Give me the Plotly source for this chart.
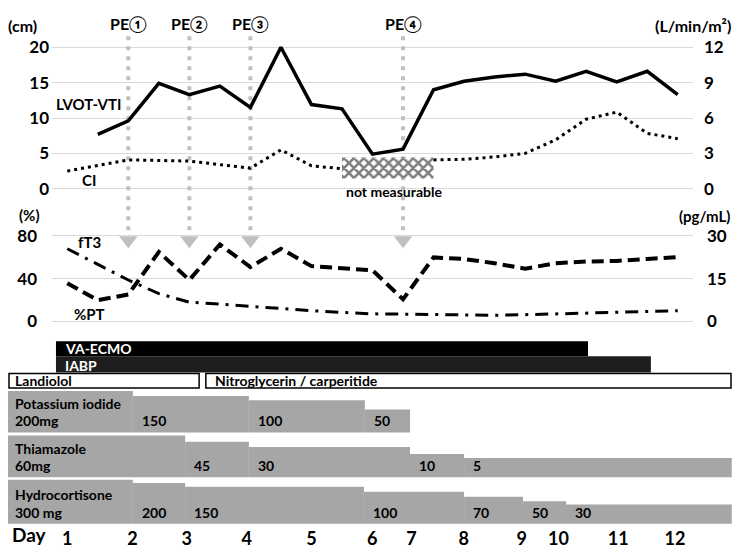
import plotly.graph_objects as go

# measurement points (two per day), index 0..20
POS = list(range(21))

LVOT_VTI = [None, 7.7, 9.6, 14.9, 13.3, 14.5, 11.5, 20.0, 11.9, 11.3, 4.9,
            5.6, 14.0, 15.2, 15.8, 16.2, 15.2, 16.6, 15.1, 16.6, 13.3]
CI = [1.5, 2.0, 2.45, 2.4, 2.35, 2.05, 1.75, 3.3, 1.95, 1.7, None,
      None, 2.45, 2.5, 2.7, 3.0, 4.15, 5.9, 6.5, 4.7, 4.25]
PT = [35.7, 19.7, 25.1, 65.0, 38.7, 72.0, 50.8, 68.0, 51.7, 50.0, 47.8,
      20.6, 59.9, 58.4, 54.4, 49.3, 54.4, 56.0, 56.6, 58.4, 60.2]
FT3 = [25.5, 20.1, 14.5, 9.7, 6.7, 6.0, 5.2, 4.5, 3.7, 3.1, 2.6,
       2.5, 2.3, 2.1, 2.1, 2.3, 2.6, 2.9, 3.1, 3.4, 3.7]
NOT_MEASURABLE = [9, 12]

PE_POS = [2, 4, 6, 11]
PE_LABELS = ["PE①", "PE②", "PE③", "PE④"]

DAY_POS = [0, 2.14, 3.91, 5.88, 8.0, 9.99, 11.28, 12.99, 14.89, 16.09, 18.05, 19.91]
DAY_LABELS = ["1", "2", "3", "4", "5", "6", "7", "8", "9", "10", "11", "12"]

# treatment periods (same position scale)
ECMO = [-0.37, 17.06]
IABP = [-0.37, 19.12]
LANDIOLOL = [-2.01, 4.32]
NTG = [4.54, 21.77]

KI_EDGES = [-2.04, 2.15, 5.95, 9.75, 11.23]
KI_DOSE = ["200mg", "150", "100", "50"]
THI_EDGES = [-2.04, 3.86, 5.95, 11.23, 13.0, 21.77]
THI_DOSE = ["60mg", "45", "30", "10", "5"]
HC_EDGES = [-2.04, 2.15, 3.86, 9.72, 13.0, 14.93, 16.34, 21.77]
HC_DOSE = ["300 mg", "200", "150", "100", "70", "50", "30"]

# ---- layout helpers (page pixels; the page body has an 8px margin) ----
OX = OY = 8
W, H = 740 - 2 * OX, 557 - 2 * OY
PL, PR = 52, 693
PX = (PR - PL) / 21
FONT = "Lato"
GRID = "#d9d9d9"
BARGRAY = "#a6a6a6"
PEGRAY = "#c0c0c0"


def xf(p):
    return (p - OX) / W


def yf(p):
    return 1 - (p - OY) / H


def idx(p):
    return (p - PL) / PX - 0.5


def rng(top, bot, zero, per):
    return [-(bot - zero) / per, (zero - top) / per]


TOP_DOM = (26, 232.3)
MID_DOM = (232.3, 330)
BOT_DOM = (338, 535)
top_zero, top_per = 185.7, 7.32
mid_zero, mid_per = 322.7, 1.1025
X3_MIN, X3_MAX = idx(OX), idx(740 - OX)


def top_val(p):
    return (top_zero - p) / top_per


def mid_val(p):
    return (mid_zero - p) / mid_per


fig = go.Figure()

# not measurable hatch (CI axis)
ci_per = top_per * 20 / 12
h_lo, h_hi = (top_zero - 175) / ci_per, (top_zero - 153.3) / ci_per
fig.add_trace(go.Scatter(
    x=[NOT_MEASURABLE[0], NOT_MEASURABLE[1], NOT_MEASURABLE[1], NOT_MEASURABLE[0], NOT_MEASURABLE[0]],
    y=[h_lo, h_lo, h_hi, h_hi, h_lo], xaxis="x", yaxis="y4",
    mode="lines", line=dict(width=0), fill="toself", fillcolor="white",
    fillpattern=dict(shape="x", fgcolor="black", bgcolor="white", size=7, solidity=0.6),
    hoverinfo="skip"))

# PE dotted lines
pex, pey = [], []
for p in PE_POS:
    pex += [p, p, None]
    pey += [top_val(28), top_val(234), None]
fig.add_trace(go.Scatter(x=pex, y=pey, xaxis="x", yaxis="y", mode="lines",
                         line=dict(color=PEGRAY, width=4, dash="4px,6px"), hoverinfo="skip"))
fig.add_trace(go.Scatter(x=PE_POS, y=[mid_val(239)] * len(PE_POS), xaxis="x2", yaxis="y2",
                         mode="markers", cliponaxis=False,
                         marker=dict(symbol="triangle-down", size=16, color=PEGRAY)))

fig.add_trace(go.Scatter(x=POS, y=CI, xaxis="x", yaxis="y4", mode="lines",
                         line=dict(color="black", width=3, dash="3px,4px")))
fig.add_trace(go.Scatter(x=POS, y=LVOT_VTI, xaxis="x", yaxis="y", mode="lines",
                         line=dict(color="black", width=3.5)))
fig.add_trace(go.Scatter(x=POS, y=FT3, xaxis="x2", yaxis="y5", mode="lines",
                         line=dict(color="black", width=3, dash="13px,7px,3px,7px")))
fig.add_trace(go.Scatter(x=POS, y=PT, xaxis="x2", yaxis="y2", mode="lines",
                         line=dict(color="black", width=4, dash="12px,6px")))

# ---- bottom treatment panel (y3 in pixel units) ----
ann = []


def bar(x0, x1, bottom, height, color, line=None):
    x0, x1 = max(x0, X3_MIN), min(x1, X3_MAX)
    fig.add_trace(go.Bar(x=[(x0 + x1) / 2], width=[x1 - x0], base=[bottom], y=[-height],
                         xaxis="x3", yaxis="y3", marker=dict(color=color, line=line or dict(width=0)),
                         hoverinfo="skip"))


def label(x, y, text, color="black", size=14):
    x = max(x, idx(6)) + 7 / PX
    ann.append(dict(x=x, y=y, xref="x3", yref="y3", text=text, showarrow=False,
                    xanchor="left", yanchor="middle",
                    font=dict(family=FONT, size=size, color=color, weight="bold")))


bar(IABP[0], IABP[1], 375.7, 16.7, "#1e1e1e")
bar(ECMO[0], ECMO[1], 359, 15.7, "black")
label(ECMO[0], 351, "VA-ECMO", "white", 14)
label(IABP[0], 368, "IABP", "white", 14)
box = dict(color="black", width=1.5)
bar(max(LANDIOLOL[0], idx(OX + 1)), LANDIOLOL[1], 391.7, 15, "white", box)
bar(NTG[0], min(NTG[1], idx(740 - OX - 1)), 391.7, 15, "white", box)
label(LANDIOLOL[0], 384, "Landiolol")
label(NTG[0], 384, "Nitroglycerin / carperitide")

rows = [
    ("Potassium iodide", KI_EDGES, KI_DOSE, 437.7, [42.7, 37.7, 33.3, 23.7]),
    ("Thiamazole", THI_EDGES, THI_DOSE, 484, [43, 36.7, 31.3, 24, 19.7]),
    ("Hydrocortisone", HC_EDGES, HC_DOSE, 532.3, [45.6, 42.3, 38.3, 33.3, 28, 23.3, 20]),
]
for name, edges, doses, bottom, heights in rows:
    for i, d in enumerate(doses):
        bar(edges[i], edges[i + 1], bottom, heights[i], BARGRAY)
        label(edges[i], bottom - 12, d)
    label(edges[0], bottom - 30, name)


# ---- text annotations (paper) ----
def pap(xp, yp, text, xanchor="left", size=15):
    ann.append(dict(x=xf(xp), y=yf(yp), xref="paper", yref="paper", text=text, showarrow=False,
                    xanchor=xanchor, yanchor="middle",
                    font=dict(family=FONT, size=size, color="black", weight="bold")))


pap(6, 17, "(cm)", size=16)
pap(733, 17, "(L/min/m²)", "right", 16)
pap(17, 213, "(%)", size=15)
pap(732, 214, "(pg/mL)", "right", 15)
pap(54, 98, "LVOT-VTI")
pap(80, 177, "CI")
pap(344, 189, "not measurable", size=14)
pap(76, 241, "fT3")
pap(72, 315, "%PT")
pap(10, 543, "Day", size=19)
for p, t in zip(PE_POS, PE_LABELS):
    ann.append(dict(x=p, y=yf(15), xref="x", yref="paper", text=t, showarrow=False,
                    xanchor="center", yanchor="middle",
                    font=dict(family=FONT, size=16, color="black", weight="bold")))

tick_font = dict(family=FONT, size=17, color="black", weight="bold")
xdom = [xf(PL), xf(PR)]
hidden_x = dict(domain=xdom, range=[-0.5, 20.5], visible=False)

fig.update_layout(
    width=W, height=H, margin=dict(l=0, r=0, t=0, b=0),
    paper_bgcolor="white", plot_bgcolor="white", showlegend=False,
    barmode="overlay", annotations=ann,
    xaxis=dict(hidden_x, anchor="y"),
    xaxis2=dict(hidden_x, anchor="y2"),
    xaxis3=dict(domain=[0, 1], range=[X3_MIN, X3_MAX], anchor="y3",
                tickvals=DAY_POS, ticktext=DAY_LABELS, showgrid=False, zeroline=False,
                showline=False, ticks="", ticklabelstandoff=0,
                tickfont=dict(tick_font, size=18)),
    yaxis=dict(domain=[yf(TOP_DOM[1]), yf(TOP_DOM[0])],
               range=rng(*TOP_DOM, top_zero, top_per), anchor="x",
               tickvals=[0, 5, 10, 15, 20], gridcolor=GRID, zeroline=False, ticks="",
               tickfont=tick_font, ticklabelstandoff=2),
    yaxis4=dict(overlaying="y", side="right", anchor="x",
                range=rng(*TOP_DOM, top_zero, ci_per), tickvals=[0, 3, 6, 9, 12],
                showgrid=False, zeroline=False, ticks="", tickfont=tick_font, ticklabelstandoff=10),
    yaxis2=dict(domain=[yf(MID_DOM[1]), yf(MID_DOM[0])],
                range=rng(*MID_DOM, mid_zero, mid_per), anchor="x2",
                tickvals=[0, 40, 80], gridcolor=GRID, zeroline=False, ticks="",
                tickfont=tick_font, ticklabelstandoff=14),
    yaxis5=dict(overlaying="y2", side="right", anchor="x2",
                range=rng(*MID_DOM, mid_zero, 88.2 / 30), tickvals=[0, 15, 30],
                showgrid=False, zeroline=False, ticks="", tickfont=tick_font, ticklabelstandoff=13),
    yaxis3=dict(domain=[yf(BOT_DOM[1]), yf(BOT_DOM[0])], range=[BOT_DOM[1], BOT_DOM[0]],
                anchor="x3", visible=False),
)

fig.write_html("out.html")
